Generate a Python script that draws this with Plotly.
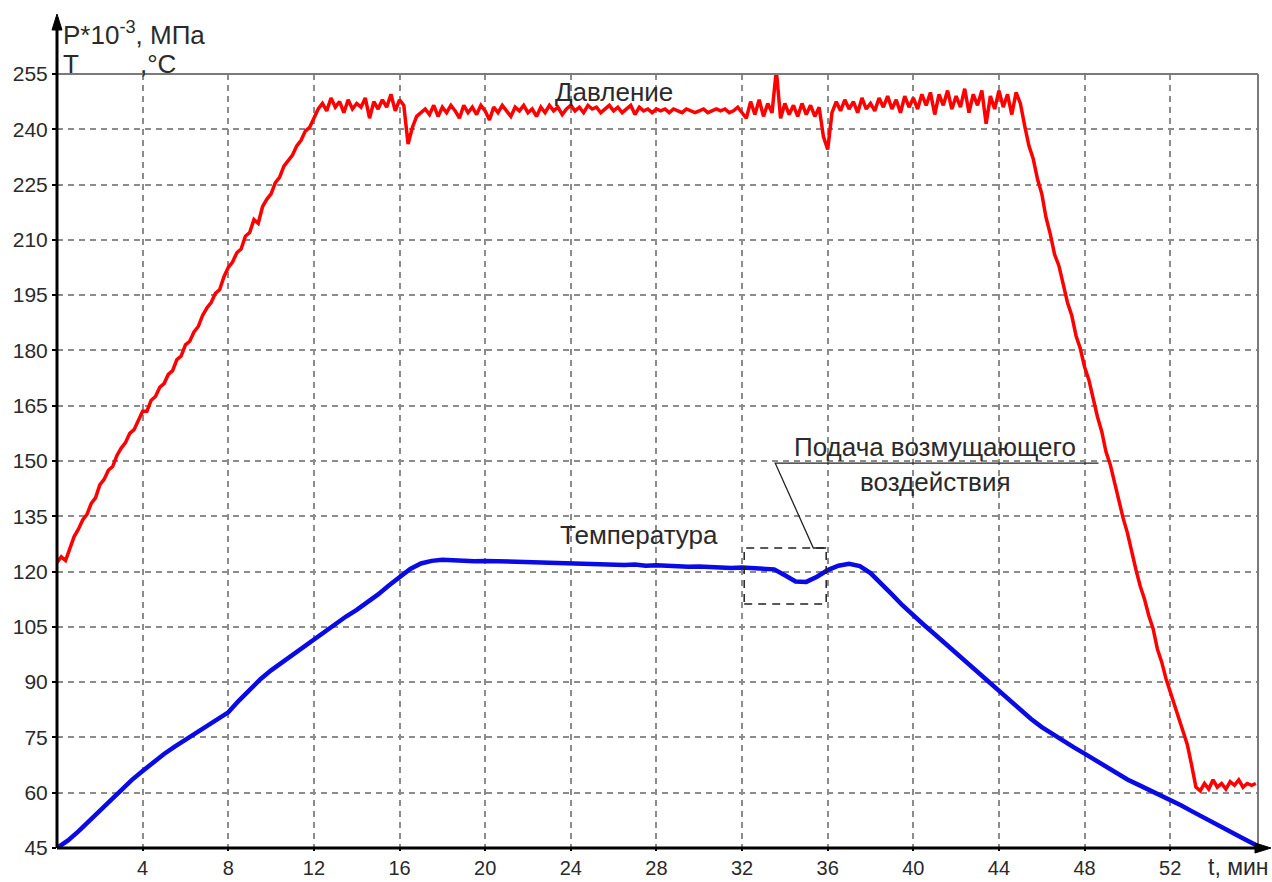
import plotly.graph_objects as go

# ---------------- data ----------------
P_STEP = 0.2   # minutes between pressure samples
T_STEP = 0.5   # minutes between temperature samples

pressure = [
    122.5, 124.0, 123.0, 126.0, 129.5, 131.5, 134.0, 135.5, 138.5, 140.0, 143.5,
    145.0, 147.5, 148.5, 151.5, 153.5, 155.0, 157.5, 158.5, 161.0, 163.5,
    163.5, 166.5, 167.5, 170.0, 171.0, 173.5, 174.5, 177.5, 178.5, 181.5,
    182.5, 185.0, 186.5, 189.5, 191.5, 193.0, 195.5, 196.5, 200.0, 202.5,
    204.0, 206.5, 207.5, 211.0, 212.0, 215.5, 214.5, 219.0, 221.0, 222.5,
    225.5, 227.0, 230.0, 231.5, 233.0, 235.5, 237.0, 239.5, 240.5, 243.0,
    245.5, 247.0, 245.0, 248.5, 246.0, 247.5, 244.5, 248.0, 245.5, 247.0,
    246.0, 248.5, 243.0, 247.5, 245.5, 248.0, 246.0, 249.5, 245.0, 248.0,
    246.5, 236.0, 240.5, 243.5, 244.5, 245.5, 244.0, 246.5, 243.5, 246.0,
    244.5, 246.5, 245.0, 243.0, 246.5, 244.5, 246.0, 244.0, 246.5, 245.0,
    242.5, 246.0, 244.5, 246.5, 245.0, 243.5, 246.0, 245.0, 246.5, 244.5,
    245.5, 243.5, 246.0, 244.5, 246.5, 245.0, 246.0, 244.0, 245.5, 246.5,
    245.0, 246.0, 244.5, 246.5, 245.5, 246.0, 244.5, 245.5, 246.5, 245.0,
    246.0, 244.5, 245.5, 246.5, 244.0, 246.0, 245.0, 245.5, 244.5, 245.5,
    245.0, 245.5, 244.5, 245.5, 245.0, 244.5, 245.5, 245.0, 244.5, 245.0,
    245.5, 244.5, 245.0, 245.5, 245.0, 245.5, 244.5, 245.0, 246.0, 244.5,
    243.0, 247.5, 244.0, 248.0, 243.5, 247.0, 244.5, 256.0, 243.0, 247.0,
    244.0, 246.5, 243.5, 247.0, 244.0, 246.5, 243.5, 246.0, 238.0, 234.5,
    244.5, 247.5, 245.0, 248.0, 245.5, 247.5, 244.5, 248.5, 245.5, 247.0,
    245.0, 248.5, 246.0, 249.0, 245.5, 248.0, 244.5, 249.0, 246.0, 248.5,
    245.5, 249.5, 246.5, 250.0, 244.0, 249.5, 246.5, 250.5, 245.5, 249.0,
    246.0, 251.0, 244.5, 249.5, 246.5, 250.5, 241.5, 249.0, 245.5, 250.5,
    246.0, 249.5, 244.0, 250.0, 247.0, 241.0, 235.5, 232.0, 226.5, 222.5,
    216.0, 211.5, 206.0, 203.0, 197.5, 193.0, 189.5, 184.0, 180.5, 175.5,
    172.0, 166.5, 162.0, 158.0, 152.5, 149.0, 144.0, 139.5, 134.5, 130.5,
    125.0, 120.5, 116.0, 112.5, 108.0, 104.5, 99.0, 95.5, 91.0, 87.5,
    83.5, 80.0, 76.5, 73.0, 67.5, 61.5, 60.5, 62.5, 61.0, 63.5,
    61.5, 62.5, 61.0, 63.0, 62.0, 63.5, 61.5, 62.5, 62.0, 62.5,
]

temperature = [
    45.0, 47.0, 49.5, 52.3, 55.3, 58.2, 60.8, 63.5, 65.9, 68.3,
    70.5, 72.5, 74.3, 76.2, 78.0, 79.8, 81.8, 85.0, 88.0, 90.8,
    93.2, 95.3, 97.3, 99.3, 101.3, 103.5, 105.8, 107.8, 109.6, 111.6,
    113.8, 116.2, 118.6, 120.7, 122.2, 122.9, 123.2, 123.0, 123.1, 122.8,
    122.9, 122.8, 122.9, 122.6, 122.7, 122.4, 122.5, 122.2, 122.3, 122.1,
    122.2, 121.9, 122.0, 121.8, 121.9, 121.6, 121.7, 121.5, 121.6, 121.3,
    121.4, 121.2, 121.3, 121.0, 121.1, 120.9, 121.0, 120.6, 119.0, 117.3,
    117.2, 118.6, 120.4, 121.6, 122.1, 121.5, 119.6, 116.5, 113.8, 110.8,
    108.0, 105.5, 103.0, 100.4, 97.9, 95.2, 92.6, 90.1, 87.7, 85.0,
    82.4, 80.0, 77.8, 75.9, 74.1, 72.3, 70.6, 68.8, 67.0, 65.2,
    63.6, 62.2, 60.8, 59.6, 58.2, 56.6, 55.0, 53.4, 51.9, 50.4,
    48.9, 47.3, 45.8,
]

x_ticks = [4, 8, 12, 16, 20, 24, 28, 32, 36, 40, 44, 48, 52]
y_ticks = [45, 60, 75, 90, 105, 120, 135, 150, 165, 180, 195, 210, 225, 240, 255]

time_p = [round(i * P_STEP, 2) for i in range(len(pressure))]
time_t = [round(i * T_STEP, 2) for i in range(len(temperature))]

# disturbance box and callout (data coordinates)
box_x = [32.1, 35.93]
box_y = [111.2, 126.4]
callout_x = [35.93, 35.33, 33.55, 48.65]
callout_y = [126.4, 126.4, 149.4, 149.4]

FONT = "Liberation Sans, Arial, sans-serif"
TXT = "#2a2a2a"

W, H = 1272, 882
ML, MR, MT, MB = 57, 14, 74, 34
PW, PH = W - ML - MR, H - MT - MB


def px_x(px):
    """pixel column -> paper x"""
    return (px - ML) / PW


def px_y(py):
    """pixel row -> paper y"""
    return (H - MB - py) / PH


fig = go.Figure()
fig.add_trace(go.Scatter(x=time_p, y=pressure, mode="lines",
                         line=dict(color="#ff0000", width=3.5), name="Давление",
                         showlegend=False))
fig.add_trace(go.Scatter(x=time_t, y=temperature, mode="lines",
                         line=dict(color="#0a0ae6", width=4.5), name="Температура",
                         showlegend=False))

# dashed box around disturbance
fig.add_shape(type="rect", x0=box_x[0], x1=box_x[1], y0=box_y[0], y1=box_y[1],
              line=dict(color="#222", width=1.5, dash="8px,6px"), layer="above")
path = "M " + " L ".join(f"{a},{b}" for a, b in zip(callout_x, callout_y))
fig.add_shape(type="path", path=path, line=dict(color="#222", width=1.3))

# frame: top and right borders gray, left and bottom axes black with arrows
fig.add_shape(type="line", xref="paper", yref="paper", x0=0, x1=1, y0=1, y1=1,
              line=dict(color="#7a7a7a", width=2))
fig.add_shape(type="line", xref="paper", yref="paper", x0=1, x1=1, y0=0, y1=1,
              line=dict(color="#7a7a7a", width=2))
fig.add_shape(type="line", xref="paper", yref="paper", x0=0, x1=0, y0=0, y1=px_y(28),
              line=dict(color="black", width=3))
fig.add_shape(type="line", xref="paper", yref="paper", x0=0, x1=px_x(1258), y0=0, y1=0,
              line=dict(color="black", width=3))
fig.add_shape(type="path", xref="paper", yref="paper",
              path=(f"M {px_x(52)},{px_y(30)} L {px_x(57)},{px_y(14)} "
                    f"L {px_x(62)},{px_y(30)} Z"),
              fillcolor="black", line=dict(color="black", width=1))
fig.add_shape(type="path", xref="paper", yref="paper",
              path=(f"M {px_x(1255)},{px_y(843)} L {px_x(1271)},{px_y(848)} "
                    f"L {px_x(1255)},{px_y(853)} Z"),
              fillcolor="black", line=dict(color="black", width=1))

annotations = [
    # axis titles
    dict(x=px_x(61), y=px_y(34), xref="paper", yref="paper", xanchor="left", yanchor="middle",
         text="P*10<sup>-3</sup>, МПа", showarrow=False, font=dict(size=26, color=TXT, family=FONT)),
    dict(x=px_x(61), y=px_y(64), xref="paper", yref="paper", xanchor="left", yanchor="middle",
         text="T", showarrow=False, font=dict(size=26, color=TXT, family=FONT)),
    dict(x=px_x(138), y=px_y(64), xref="paper", yref="paper", xanchor="left", yanchor="middle",
         text=",°C", showarrow=False, font=dict(size=26, color=TXT, family=FONT)),
    dict(x=px_x(1271), y=px_y(867), xref="paper", yref="paper", xanchor="right", yanchor="middle",
         text="t, мин", showarrow=False, font=dict(size=23, color=TXT, family=FONT)),
    # curve labels
    dict(x=26.0, y=250.1, text="Давление", showarrow=False,
         font=dict(size=26, color=TXT, family=FONT)),
    dict(x=27.2, y=129.9, text="Температура", showarrow=False,
         font=dict(size=26, color=TXT, family=FONT)),
    dict(x=41.03, y=153.8, text="Подача возмущающего", showarrow=False,
         font=dict(size=26, color=TXT, family=FONT)),
    dict(x=41.03, y=144.4, text="воздействия", showarrow=False,
         font=dict(size=26, color=TXT, family=FONT)),
]

fig.update_layout(
    width=W, height=H,
    margin=dict(l=ML, r=MR, t=MT, b=MB, autoexpand=False),
    paper_bgcolor="white", plot_bgcolor="white",
    font=dict(family=FONT, color=TXT),
    annotations=annotations,
    showlegend=False,
)
fig.update_xaxes(range=[0, 56.1], tickmode="array", tickvals=x_ticks,
                 ticktext=[str(v) for v in x_ticks], automargin=False,
                 showgrid=True, gridcolor="#8c8c8c", gridwidth=1.5, griddash="6px,5px",
                 zeroline=False, showline=False, ticks="outside", ticklen=2,
                 tickcolor="black", tickwidth=1.5,
                 tickfont=dict(size=20, color=TXT, family=FONT))
fig.update_yaxes(range=[45, 255], tickmode="array", tickvals=y_ticks,
                 ticktext=[str(v) for v in y_ticks], automargin=False,
                 showgrid=True, gridcolor="#8c8c8c", gridwidth=1.5, griddash="6px,5px",
                 zeroline=False, showline=False, ticks="outside", ticklen=4,
                 tickcolor="black", tickwidth=1.5,
                 tickfont=dict(size=21, color=TXT, family=FONT))

fig.write_html("out.html",
               config={"displayModeBar": False},
               post_script="document.body.style.margin='0px';document.body.style.overflow='hidden';")
